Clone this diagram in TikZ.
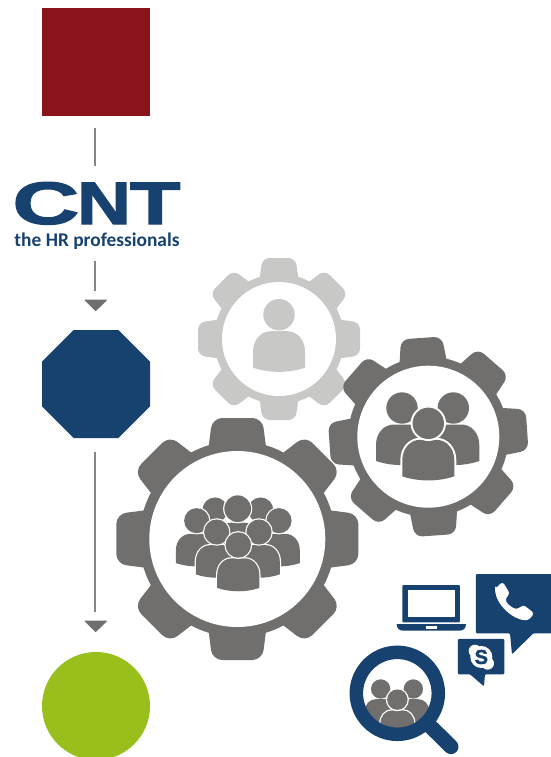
\documentclass[tikz,border=0pt]{standalone}
\usepackage{fontspec}
\setmainfont{Carlito}
\newfontfamily\logofont[FakeBold=2]{Liberation Sans}
\usetikzlibrary{shapes.geometric,calc}
\definecolor{cntblue}{HTML}{17426F}
\definecolor{cntred}{HTML}{8B141A}
\definecolor{cntgreen}{HTML}{98BF1C}
\definecolor{geardark}{HTML}{706F6E}
\definecolor{gearlight}{HTML}{C8C8C7}
\definecolor{linegrey}{HTML}{858585}
% \gearshape{cx}{cy}{outer}{root}{inner}{half width tip}{half width base}{corner}{colour}
\newcommand{\gearshape}[9]{%
  \foreach \ga in {0,45,...,315}{%
    \fill[#9,rotate around={\ga+\gearrot:(#1,#2)},rounded corners=#8]
      ($(#1,#2)+(-#7,-#4+16)$) -- ($(#1,#2)+(-#6,-#3)$) -- ($(#1,#2)+(#6,-#3)$) -- ($(#1,#2)+(#7,-#4+16)$) -- cycle;
  }%
  \fill[#9] (#1,#2) circle (#4);
  \fill[white] (#1,#2) circle (#5);
}
\def\gearrot{0}
% \personfig{x}{y}{scale}{colour}{halo width}: head centre at x,y
\newcommand{\personfig}[5]{%
  \begin{scope}[shift={(#1,#2)},scale=#3]
    \def\bodyoutline{(-26,53) -- (-26,37) .. controls (-26,25) and (-18,16.5) .. (-8,16.5) -- (8,16.5)
      .. controls (18,16.5) and (26,25) .. (26,37) -- (26,53)
      .. controls (10,58.5) and (-10,58.5) .. (-26,53) -- cycle}
    \draw[white,line width=2*#5] \bodyoutline;
    \fill[#4] \bodyoutline;
    \draw[white,line width=2*#5] (0,0) circle (15.7);
    \fill[#4] (0,0) circle (15.7);
  \end{scope}}
\tikzset{
  blockbox/.style={draw=none,inner sep=0pt,outer sep=0pt},
  connline/.style={draw=linegrey,line width=2pt},
  tipshape/.style={fill=geardark,draw=geardark,line width=1pt,line join=round},
  x=1pt,y=-1pt
}
\begin{document}
\begin{tikzpicture}
\useasboundingbox (0,0) rectangle (551,757);
\clip (0,0) rectangle (551,757);
% left column
\node[blockbox,fill=cntred,minimum width=108pt,minimum height=108pt] (red) at (96,62) {};
\node[blockbox,fill=cntblue,regular polygon,regular polygon sides=8,minimum size=116.9pt] (octa) at (96,384) {};
\node[blockbox,fill=cntgreen,circle,minimum size=108pt] (green) at (96,706) {};
% logo
\node[blockbox,text=cntblue,anchor=base,text height=43pt,text depth=0pt] (cnt) at (96.5,224) {\logofont\bfseries\fontsize{60}{60}\selectfont\scalebox{1.54}[1]{C}\kern-2pt\scalebox{1.24}[1]{N}\kern-1pt\scalebox{1.38}[1]{T}};
\node[blockbox,text=cntblue,anchor=base,text height=10pt,text depth=0pt,font=\bfseries\fontsize{19.4}{20}\selectfont] (tag) at (97,246) {the HR professionals};
% connectors
\coordinate (c1a) at (95.3,128);
\coordinate (c1b) at (95.3,166);
\coordinate (c2a) at (95.3,261);
\coordinate (c2b) at (95.3,291);
\coordinate (c3a) at (95.3,452);
\coordinate (c3b) at (95.3,612);
\draw[connline] (c1a) -- (c1b);
\draw[connline] (c2a) -- (c2b);
\draw[connline] (c3a) -- (c3b);
\filldraw[tipshape] (85,300) -- (106.5,300) -- (95.7,310.5) -- cycle;
\filldraw[tipshape] (85,621) -- (106.5,621) -- (95.7,631.5) -- cycle;
% gears
\gearshape{279}{339}{81}{65}{57}{16.5}{21}{7pt}{gearlight}
\personfig{279}{314.7}{1}{gearlight}{0pt}
\def\gearrot{4}
\gearshape{428.3}{436.7}{99}{80}{71}{20.5}{25}{8pt}{geardark}
\def\gearrot{0}
\personfig{402}{408}{1}{geardark}{0pt}
\personfig{453.3}{408}{1}{geardark}{0pt}
\personfig{428.3}{423.3}{1}{geardark}{2pt}
\gearshape{237.3}{539}{121}{98}{88}{25}{30}{10pt}{geardark}
\personfig{215}{510}{.8}{geardark}{1.2pt}
\personfig{260.7}{510}{.8}{geardark}{1.2pt}
\personfig{237.7}{508.7}{.85}{geardark}{1.2pt}
\personfig{196.7}{520.7}{.8}{geardark}{1.2pt}
\personfig{279}{520.7}{.8}{geardark}{1.2pt}
\personfig{216.7}{532}{.8}{geardark}{1.2pt}
\personfig{259}{532}{.8}{geardark}{1.2pt}
\personfig{238.3}{545}{.81}{geardark}{1.2pt}
% icons (coordinates from the 3x crop)
\begin{scope}[shift={(340,565)},x=.3333pt,y=-.3333pt]
  % laptop
  \fill[cntblue,rounded corners=1pt] (187,60) rectangle (360,172);
  \fill[white] (203,75) rectangle (345,155);
  \fill[cntblue] (170,177) -- (378,177) .. controls (378,190) and (370,197) .. (358,197) -- (190,197) .. controls (178,197) and (170,190) .. (170,177) -- cycle;
  \fill[white] (258,184) rectangle (290,191);
  % phone bubble
  \fill[cntblue,rounded corners=1pt] (408,27) -- (640,27) -- (640,205) -- (580,205) -- (516,268) -- (510,205) -- (408,205) -- cycle;
  \fill[white,rounded corners=3pt] (465,72) -- (488,50) -- (510,86) -- (495,102) .. controls (503,118) and (518,130) .. (535,132) -- (550,119) -- (583,145) -- (565,166) .. controls (520,165) and (470,120) .. (465,72) -- cycle;
  % skype bubble
  \fill[cntblue,rounded corners=1pt] (354,222) -- (493,222) -- (493,328) -- (435,328) -- (432,364) -- (390,328) -- (354,328) -- cycle;
  \fill[white] (424,276) circle (33);
  \fill[white] (405,258) circle (19);
  \fill[white] (443,295) circle (19);
  \node[blockbox,text=cntblue,font=\logofont\bfseries\fontsize{20}{20}\selectfont] (skype) at (424,276) {S};
  % magnifier
  \begin{scope}
    \clip (172,385) circle (104);
    \personfig{122}{372}{1.85}{geardark}{0pt}
    \personfig{220}{372}{1.85}{geardark}{0pt}
    \fill[geardark] (60,445) rectangle (290,500);
    \personfig{172}{404}{1.95}{geardark}{1.3pt}
  \end{scope}
  \draw[cntblue,line width=13.5pt] (172,385) circle (123);
  \draw[cntblue,line width=15pt,line cap=round] (270,483) -- (333,545);
\end{scope}
\end{tikzpicture}
\end{document}
